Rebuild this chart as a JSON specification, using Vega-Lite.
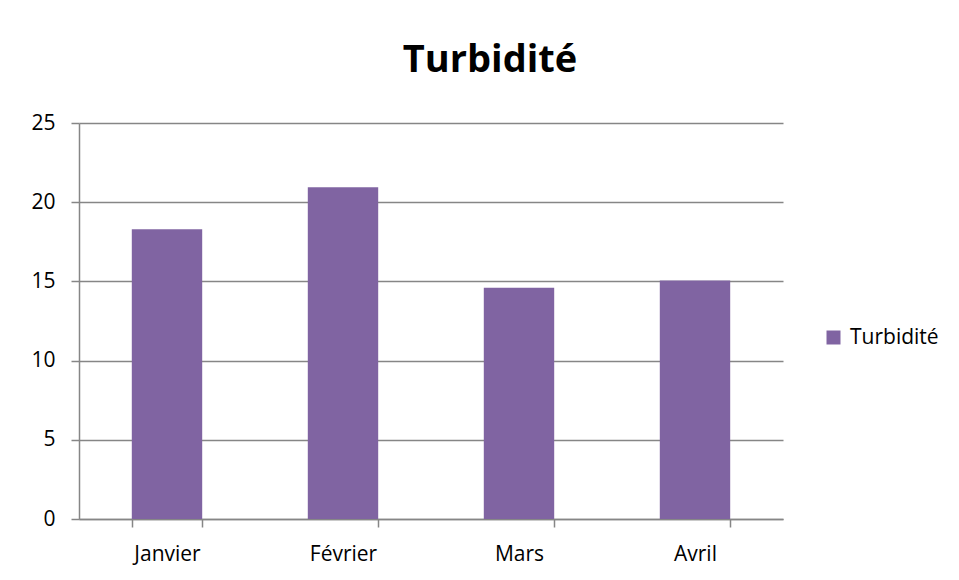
{
  "$schema": "https://vega.github.io/schema/vega-lite/v6.json",
  "autosize": "none",
  "width": 704,
  "height": 396,
  "padding": {"left": 79, "top": 123, "right": 176, "bottom": 61},
  "background": "white",
  "title": {
    "text": "Turbidité",
    "font": "Open Sans",
    "fontSize": 38,
    "fontWeight": "bold",
    "color": "#000000",
    "anchor": "middle",
    "dx": 59,
    "offset": 32
  },
  "data": {
    "values": [
      {"mois": "Janvier", "valeur": 18.3, "serie": "Turbidité"},
      {"mois": "Février", "valeur": 20.95, "serie": "Turbidité"},
      {"mois": "Mars", "valeur": 14.6, "serie": "Turbidité"},
      {"mois": "Avril", "valeur": 15.05, "serie": "Turbidité"}
    ]
  },
  "mark": {"type": "bar"},
  "encoding": {
    "x": {
      "field": "mois",
      "type": "nominal",
      "sort": null,
      "scale": {"paddingInner": 0.6, "paddingOuter": 0.3},
      "axis": {
        "title": null,
        "labelAngle": 0,
        "labelFont": "Open Sans",
        "labelFontSize": 21,
        "labelColor": "#000000",
        "labelPadding": 16,
        "tickBand": "extent",
        "tickSize": 8,
        "tickColor": "#868686",
        "domainColor": "#868686",
        "grid": false
      }
    },
    "y": {
      "field": "valeur",
      "type": "quantitative",
      "scale": {"domain": [0, 25], "nice": false},
      "axis": {
        "title": null,
        "values": [0, 5, 10, 15, 20, 25],
        "labelFont": "Open Sans",
        "labelFontSize": 21,
        "labelColor": "#000000",
        "labelPadding": 16,
        "tickSize": 8,
        "tickColor": "#868686",
        "domainColor": "#868686",
        "gridColor": "#868686",
        "grid": true
      }
    },
    "color": {
      "field": "serie",
      "type": "nominal",
      "scale": {"range": ["#8064A2"]},
      "legend": {
        "title": null,
        "orient": "none",
        "legendX": 744,
        "legendY": 204,
        "symbolType": "square",
        "symbolSize": 196,
        "symbolStrokeWidth": 0,
        "labelFont": "Open Sans",
        "labelFontSize": 21,
        "labelColor": "#000000",
        "labelOffset": 6
      }
    }
  },
  "config": {
    "view": {"stroke": null},
    "axis": {"gridOpacity": 1, "domainWidth": 1.5, "gridWidth": 1.5, "tickWidth": 1.5}
  }
}
